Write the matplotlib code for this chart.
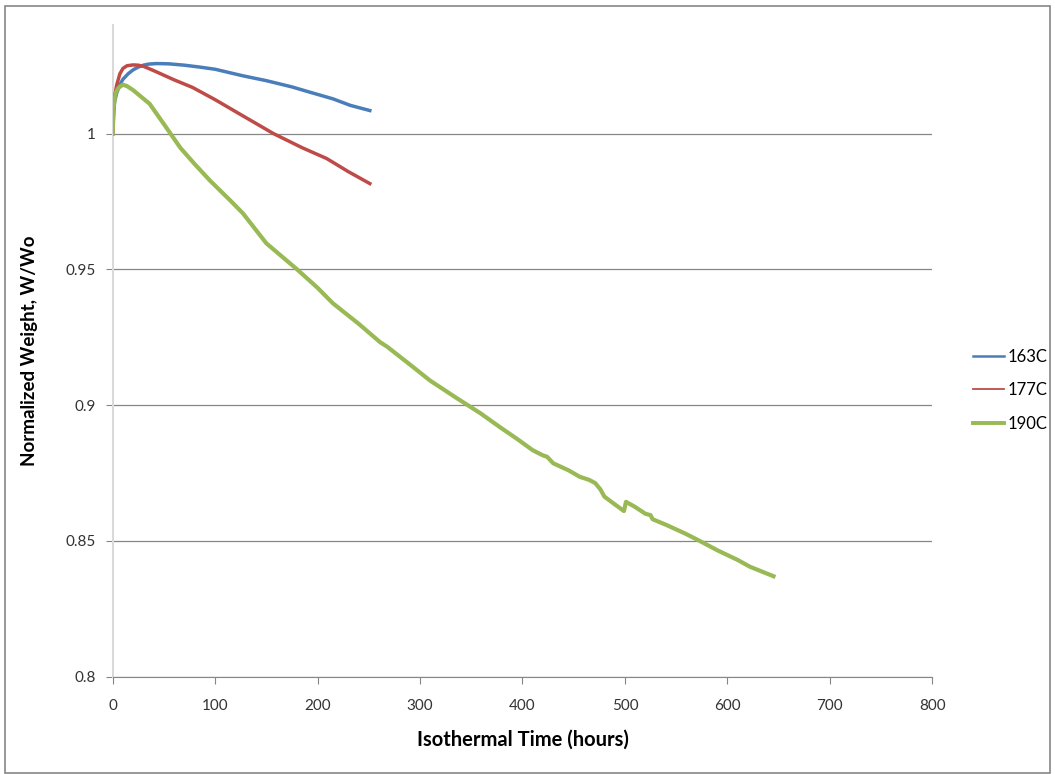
import matplotlib
matplotlib.use('Agg')
import matplotlib.pyplot as plt
from matplotlib.patches import Rectangle

plt.rcParams['font.family'] = ['Lato', 'DejaVu Sans']

# 163C
t_163 = [0, 1, 2, 4, 7, 10, 15, 20, 25, 30, 35, 43, 55, 70, 85, 100, 127, 150, 175, 193, 215, 232, 251]
w_163 = [1.000, 1.008, 1.012, 1.015, 1.018, 1.020, 1.022, 1.0235, 1.0245, 1.0252, 1.0256, 1.0258,
         1.0257, 1.0252, 1.0245, 1.0237, 1.0213, 1.0195, 1.0172, 1.0152, 1.0128, 1.0104, 1.0085]

# 177C
t_177 = [0, 1, 2, 4, 7, 10, 14, 20, 25, 30, 40, 50, 60, 78, 100, 125, 157, 185, 209, 230, 251]
w_177 = [1.000, 1.010, 1.014, 1.018, 1.022, 1.024, 1.025, 1.0253, 1.0252, 1.0248, 1.0232, 1.0215,
         1.0198, 1.017, 1.0125, 1.007, 1.000, 0.9948, 0.9908, 0.9860, 0.9816]

# 190C
t_190 = [0, 1, 2, 3, 5, 7, 10, 14, 20, 28, 36, 50, 66, 80, 95, 115, 127, 150, 165, 180, 200, 215,
         240, 261, 268, 290, 310, 335, 359, 378, 395, 410, 420, 424, 430, 445, 456, 465, 471, 476,
         480, 490, 499, 501, 510, 520, 525, 527, 541, 560, 573, 590, 610, 622, 645]
w_190 = [1.000, 1.010, 1.013, 1.015, 1.0165, 1.0173, 1.018, 1.0175, 1.016, 1.0135, 1.011, 1.0035,
         0.9948, 0.9888, 0.9827, 0.9753, 0.9707, 0.9596, 0.9548, 0.950, 0.9432, 0.9375, 0.930,
         0.9232, 0.9215, 0.915, 0.909, 0.9028, 0.897, 0.8919, 0.8875, 0.8834, 0.8815, 0.881,
         0.8786, 0.876, 0.8736, 0.8725, 0.8713, 0.869, 0.8663, 0.8635, 0.861, 0.8644, 0.8625,
         0.860, 0.8595, 0.858, 0.8558, 0.8525, 0.850, 0.8466, 0.843, 0.8405, 0.837]

x_ticks = [0, 100, 200, 300, 400, 500, 600, 700, 800]
y_ticks = [0.8, 0.85, 0.9, 0.95, 1.0]
y_labels = ['0.8', '0.85', '0.9', '0.95', '1']

fig = plt.figure(figsize=(10.55, 7.74), dpi=100)
ax = fig.add_axes([0.1068, 0.1257, 0.7769, 0.842])

ax.plot(t_163, w_163, color='#4A7EBB', lw=2.5, label='163C', zorder=3)
ax.plot(t_177, w_177, color='#BE4B48', lw=2.5, label='177C', zorder=4)
ax.plot(t_190, w_190, color='#98B954', lw=3.0, label='190C', zorder=5)

ax.set_xlim(0, 800)
ax.set_ylim(0.8, 1.04)
ax.set_xticks(x_ticks)
ax.set_yticks(y_ticks)
ax.set_yticklabels(y_labels)

ax.grid(axis='y', color='#868686', lw=0.9)
ax.set_axisbelow(True)
for s in ['top', 'right']:
    ax.spines[s].set_visible(False)
ax.spines['bottom'].set_color('#868686')
ax.spines['left'].set_color('#d9d9d9')
ax.spines['left'].set_linewidth(1.5)
ax.tick_params(axis='x', colors='#868686', length=5, pad=11, labelcolor='#333333', labelsize=11)
ax.tick_params(axis='y', colors='#868686', length=5, pad=7, labelcolor='#333333', labelsize=11)

ax.set_xlabel('Isothermal Time (hours)', fontsize=14.5, fontweight='bold', labelpad=12)
ax.set_ylabel('Normalized Weight, W/Wo', fontsize=13.5, fontweight='bold', labelpad=20)

leg = fig.legend(loc='center left', bbox_to_anchor=(0.914, 0.496), frameon=False, fontsize=12,
                 handlelength=1.9, handletextpad=0.2, labelspacing=1.05, borderpad=0)
for line, lw in zip(leg.get_lines(), [1.8, 1.3, 2.8]):
    line.set_linewidth(lw)

fig.patches.append(Rectangle((5 / 1055, 1 / 774), 1045 / 1055, 767 / 774, transform=fig.transFigure,
                             fill=False, edgecolor='#868686', lw=1.2))

fig.savefig('out.png', dpi=100)
